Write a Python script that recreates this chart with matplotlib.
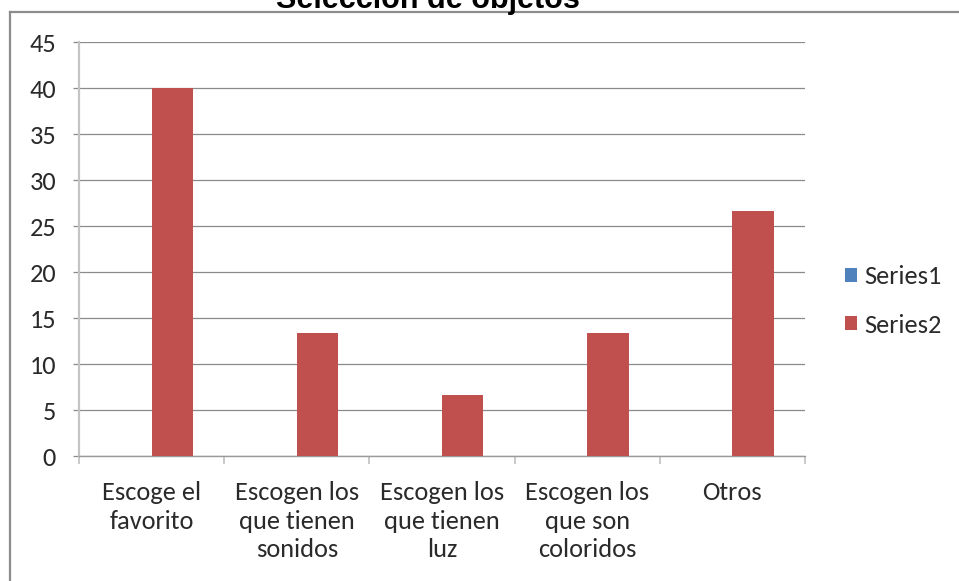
import matplotlib
matplotlib.use("Agg")
import matplotlib.pyplot as plt
import numpy as np
from matplotlib.patches import Patch
from matplotlib.lines import Line2D

categories = ["Escoge el\nfavorito", "Escogen los\nque tienen\nsonidos", "Escogen los\nque tienen\nluz",
              "Escogen los\nque son\ncoloridos", "Otros"]
series1 = [0, 0, 0, 0, 0]
series2 = [40, 13.33, 6.67, 13.33, 26.67]
series_names = ["Series1", "Series2"]
yticks = [0, 5, 10, 15, 20, 25, 30, 35, 40, 45]
title = "Selección de objetos"

W, H = 959, 581
fig = plt.figure(figsize=(W / 100, H / 100), dpi=100)
fig.patch.set_facecolor("white")
font = ["Carlito", "Lato", "DejaVu Sans"]
plt.rcParams["font.family"] = font
FS = 19

ax = fig.add_axes([79 / W, 1 - 456 / H, (805 - 79) / W, (456 - 42) / H])
x = np.arange(len(categories))
w = 1 / 3.5
c1, c2 = "#4F81BD", "#C0504D"
ax.bar(x - w / 2, series1, width=w, color=c1, zorder=3)
ax.bar(x + w / 2, series2, width=w, color=c2, zorder=3)

ax.set_xlim(-0.5, len(categories) - 0.5)
ax.set_ylim(0, 45)
ax.set_yticks(yticks)
ax.yaxis.grid(True, color="#8a8a8a", linewidth=0.9, zorder=0)
ax.tick_params(axis="y", length=4.5, width=0.9, color="#8a8a8a", pad=12, labelsize=FS, labelcolor="#2a2a2a")

ax.set_xticks(x)
ax.set_xticklabels(categories, fontsize=FS, color="#2a2a2a", linespacing=1.3)
ax.set_xticks(np.arange(-0.5, len(categories)), minor=True)
ax.tick_params(axis="x", which="major", length=0, pad=18)
ax.tick_params(axis="x", which="minor", length=6, width=1.2, color="#c0c0c0")

for s in ["top", "right"]:
    ax.spines[s].set_visible(False)
ax.spines["left"].set_color("#c4c4c4")
ax.spines["left"].set_linewidth(1.6)
ax.spines["bottom"].set_color("#9a9a9a")
ax.spines["bottom"].set_linewidth(1.0)

handles = [Patch(facecolor=c1, edgecolor="none"), Patch(facecolor=c2, edgecolor="none")]
fig.legend(handles, series_names, loc="center left", bbox_to_anchor=(845 / W, 1 - 301 / H),
           frameon=False, fontsize=FS, handlelength=0.45, handleheight=0.45,
           handletextpad=0.27, labelspacing=0.97, borderpad=0, borderaxespad=0, labelcolor="#2a2a2a")

# outer frame
fig.add_artist(Line2D([10 / W, 1], [1 - 12 / H] * 2, transform=fig.transFigure, color="#8c8c8c", lw=1.6))
fig.add_artist(Line2D([10 / W] * 2, [0, 1 - 12 / H], transform=fig.transFigure, color="#8c8c8c", lw=1.6))

fig.text(428 / W, 1 - 8 / H, title, ha="center", va="baseline", fontsize=22, fontweight="bold",
         family=["Liberation Sans", "DejaVu Sans"])

fig.savefig("out.png", dpi=100)
